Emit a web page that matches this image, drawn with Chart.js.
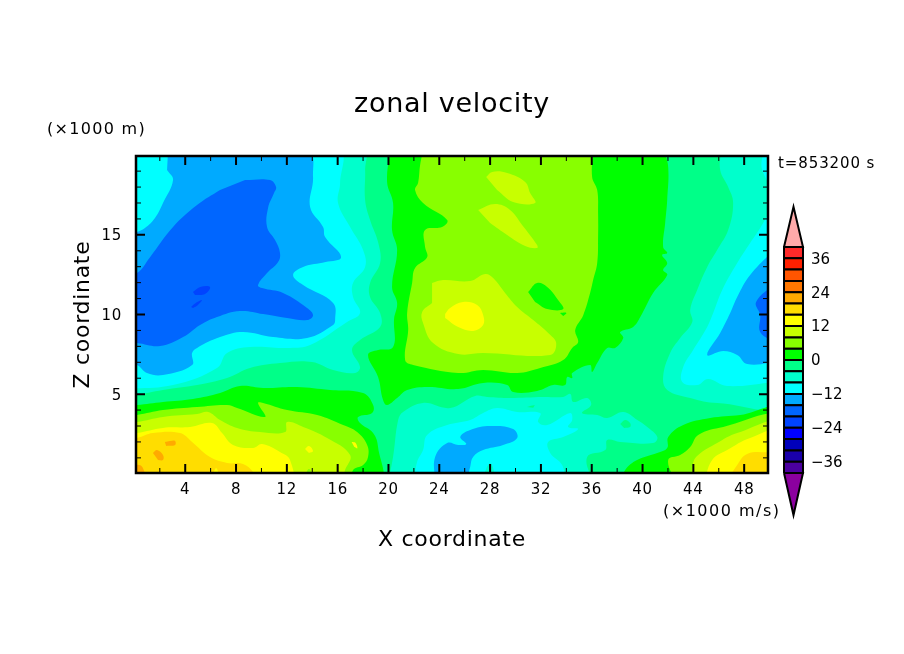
<!DOCTYPE html>
<html>
<head>
<meta charset="utf-8">
<script src="https://cdn.jsdelivr.net/npm/chart.js@4"></script>
<style>
    html, body { margin: 0; padding: 0; background: #fff; }
    #wrap { position: relative; width: 904px; height: 654px; overflow: hidden; }
    #mainChart { position: absolute; left: 0; top: 0; }
    #barChart { position: absolute; left: 770px; top: 200px; }
</style>
</head>
<body>
<div id="wrap">
    <canvas id="mainChart" width="904" height="654"></canvas>
    <canvas id="barChart" width="134" height="330"></canvas>
</div>
<script>
// colour bands, lower bound of each band in m/s
const levels = [-40, -36, -32, -28, -24, -20, -16, -12, -8, -4, 0, 4, 8, 12, 16, 20, 24, 28, 32, 36];
const bandColors = ['#4b009f', '#1a00aa', '#0000bb', '#0000ff', '#0044ff', '#0066ff', '#00aaff', '#00ffff', '#00ffcc', '#00ff88',
    '#00ff00', '#88ff00', '#c8ff00', '#ffff00', '#ffdd00', '#ffaa00', '#ff7700', '#ff5500', '#ff2000', '#ff2a2a'];
const colorbarLabels = [-36, -24, -12, 0, 12, 24, 36];
const overTip = 54.2;
const underTip = -54.9;

const xTicks = [4, 8, 12, 16, 20, 24, 28, 32, 36, 40, 44, 48];
const xMinor = [2, 6, 10, 14, 18, 22, 26, 30, 34, 38, 42, 46];
const zTicks = [5, 10, 15];
const zMinor = [1, 2, 3, 4, 6, 7, 8, 9, 11, 12, 13, 14, 16, 17, 18, 19];

// contour outlines as [x km, z km], painted in order further down
const wholeDomain = [[-1, -1], [51, -1], [51, 21], [-1, 21]];

const leftMinus8 = [[-1, 20.3], [18.0, 20.3], [18.16, 19.07], [18.16, 17.19], [18.55, 15.93], [19.2, 14.49], [19.34, 13.23], [18.55, 11.98], [18.55, 11.1], [19.34, 10.09], [19.34, 9.22], [17.76, 8.4], [17.13, 7.77], [17.76, 6.7], [17.37, 6.33], [15.64, 6.52], [13.98, 7.02], [11.46, 6.95], [9.1, 6.64], [7.29, 6.01], [4.93, 5.57], [2.25, 5.26], [-1, 4.76]];
const leftMinus12 = [[-1, 20.3], [16.03, 20.3], [16.19, 18.25], [16.03, 17.0], [16.98, 15.49], [18.0, 14.05], [18.16, 12.98], [17.21, 11.98], [17.21, 11.1], [17.76, 10.09], [16.74, 9.53], [13.83, 8.08], [12.25, 7.9], [9.1, 7.96], [7.29, 7.58], [6.5, 6.64], [3.04, 5.57], [-1, 5.32]];
const leftMinus16 = [[2.65, 20.3], [13.59, 20.3], [14.06, 18.64], [13.83, 16.75], [14.85, 15.49], [15.01, 14.86], [16.27, 13.6], [15.05, 13.29], [13.28, 12.98], [12.49, 12.48], [13.28, 11.85], [15.64, 10.72], [15.8, 9.65], [15.64, 9.34], [13.59, 8.52], [10.91, 8.58], [8.55, 8.9], [6.74, 8.58], [4.93, 7.9], [4.54, 7.58], [4.54, 6.83], [2.25, 6.2], [0.99, 6.33], [0.2, 6.83], [-1, 7.02], [-1, 14.49], [0.83, 15.43], [1.62, 16.06], [2.25, 17.0], [3.04, 18.44], [2.57, 19.07]];
const leftMinus20 = [[8.71, 18.44], [10.68, 18.44], [11.15, 18.0], [10.99, 17.63], [10.52, 16.69], [10.44, 15.49], [11.07, 14.67], [11.46, 13.86], [11.31, 13.29], [10.44, 12.6], [9.73, 11.85], [10.05, 11.66], [11.7, 11.35], [13.59, 10.41], [14.06, 9.96], [13.59, 9.65], [12.02, 9.78], [10.13, 10.03], [8.31, 10.22], [6.5, 9.84], [5.17, 9.34], [3.83, 8.58], [2.02, 8.02], [0.2, 8.21], [-1, 8.27], [-1, 12.41], [0.2, 12.6], [1.23, 13.6], [3.04, 15.49], [4.93, 16.87], [6.74, 17.81]];
const leftMinus24a = [[4.61, 11.41], [5.17, 11.73], [5.95, 11.73], [5.56, 11.29], [4.77, 11.22]];
const leftMinus24b = [[4.46, 10.47], [4.93, 10.78], [5.32, 10.91], [5.0, 10.6], [4.61, 10.41]];

const rightMinus8 = [[46.19, 20.3], [46.11, 19.07], [46.74, 18.0], [47.13, 17.0], [46.74, 15.3], [45.87, 14.05], [45.09, 12.98], [44.3, 11.54], [43.75, 10.29], [43.91, 9.53], [42.96, 8.52], [42.17, 7.58], [41.62, 6.08], [41.94, 5.26], [43.75, 4.76], [45.87, 4.45], [51, 4.64], [51, 20.3]];
const rightMinus12Top = [[49.5, 20.3], [49.42, 19.07], [50.5, 17.81], [50.5, 20.3]];
const rightMinus12 = [[50.5, 17.19], [49.26, 15.43], [48.47, 14.49], [47.45, 13.23], [46.27, 11.54], [45.56, 10.09], [45.09, 9.22], [43.98, 7.77], [43.2, 6.7], [43.12, 5.77], [44.3, 5.57], [45.17, 5.95], [46.66, 5.51], [50.5, 5.77]];
const rightMinus16 = [[50.5, 14.17], [48.47, 12.48], [47.45, 11.1], [46.9, 10.09], [46.11, 8.84], [45.09, 7.46], [46.35, 7.71], [47.45, 7.46], [48.24, 6.89], [50.5, 7.02]];
const rightMinus20 = [[50.5, 11.98], [48.94, 10.78], [49.26, 9.96], [49.26, 8.9], [50.5, 8.21]];

const lowMinus8 = [[19.97, -0.5], [20.36, 1.05], [20.76, 3.38], [21.15, 3.88], [22.72, 4.45], [24.85, 4.13], [26.82, 4.88], [27.76, 4.82], [29.57, 4.76], [32.17, 4.82], [33.75, 4.82], [34.31, 5.01], [34.54, 4.51], [35.64, 4.76], [35.95, 4.32], [35.24, 3.82], [36.43, 3.69], [37.22, 3.5], [38.48, 3.88], [39.59, 3.38], [40.37, 2.94], [41.16, 2.31], [40.83, 1.93], [38.24, 2.0], [37.22, 2.12], [37.06, 1.49], [35.64, 1.05], [36.03, -0.5]];
const lowHole = [[38.24, 3.13], [38.63, 3.38], [39.02, 3.19], [39.02, 2.94], [38.55, 2.88]];
const lowSliver = [[30.9, 4.2], [31.5, 4.3], [31.4, 4.15]];
const lowMinus12 = [[22.02, -0.5], [22.25, 0.74], [22.72, 1.49], [23.04, 2.44], [24.62, 3.06], [26.43, 3.38], [27.45, 3.82], [28.55, 4.13], [30.13, 3.88], [31.94, 3.82], [31.78, 3.25], [32.49, 3.06], [34.31, 3.82], [34.46, 3.38], [34.14, 2.94], [34.93, 2.81], [33.75, 2.31], [32.57, 2.0], [32.73, 1.31], [33.67, 0.55], [33.9, -0.5]];
const lowMinus16 = [[23.67, -0.5], [23.67, 1.05], [24.62, 1.93], [25.49, 1.81], [26.12, 1.87], [25.65, 2.31], [26.43, 2.75], [28.0, 3.0], [29.81, 2.81], [30.13, 2.25], [29.02, 1.81], [27.45, 1.49], [26.66, 1.05], [26.43, 0.43], [26.12, -0.5]];
const lowBump = [[27.3, -0.5], [28.0, 0.65], [28.55, -0.5]];

const midZero = [[20.13, 20.3], [19.89, 18.32], [20.36, 17.0], [20.28, 15.3], [20.68, 14.05], [20.28, 11.73], [20.68, 10.72], [20.44, 9.72], [20.36, 7.96], [19.18, 7.77], [18.39, 7.46], [19.18, 6.08], [19.57, 4.64], [19.89, 4.32], [20.68, 4.76], [21.47, 5.26], [23.04, 5.45], [25.49, 5.32], [27.45, 5.7], [29.34, 5.57], [29.81, 5.13], [31.7, 5.2], [32.96, 5.57], [33.9, 5.57], [34.07, 6.08], [34.46, 6.01], [34.46, 6.33], [35.87, 6.83], [36.03, 6.39], [36.43, 6.95], [37.22, 7.9], [37.84, 7.9], [38.48, 8.52], [38.24, 8.9], [39.26, 9.22], [39.82, 9.84], [40.83, 11.35], [41.94, 12.48], [41.62, 12.79], [41.94, 13.23], [41.54, 13.74], [41.94, 13.86], [41.62, 14.24], [41.78, 15.74], [41.94, 17.19], [42.02, 19.25], [41.7, 20.3]];
const midFour = [[22.72, 20.3], [22.49, 19.38], [22.33, 18.25], [22.09, 17.81], [22.72, 17.0], [24.62, 15.93], [24.22, 15.49], [22.88, 15.3], [22.88, 14.24], [23.04, 13.6], [22.09, 12.92], [21.86, 11.98], [21.47, 10.09], [21.55, 9.03], [21.31, 7.14], [21.94, 6.83], [25.49, 6.33], [27.45, 6.52], [30.13, 6.33], [31.94, 6.64], [33.75, 7.14], [34.46, 7.9], [34.93, 8.27], [34.7, 9.03], [35.33, 9.96], [35.87, 11.35], [36.11, 12.16], [36.43, 13.23], [36.5, 14.86], [36.5, 16.37], [36.43, 17.81], [36.03, 18.63], [36.11, 20.3]];
const midIsland = [[30.99, 11.41], [31.7, 11.98], [32.49, 11.73], [33.35, 10.91], [33.75, 10.34], [32.49, 10.34], [31.54, 10.78]];
const midDot = [[33.5, 10.1], [34.0, 10.1], [33.75, 9.9]];
const upperEight = [[27.69, 18.63], [28.16, 18.95], [29.34, 18.88], [30.76, 18.32], [31.15, 17.63], [31.54, 17.0], [29.81, 17.06], [28.55, 17.81]];
const lowerEight = [[27.06, 16.56], [28.39, 16.93], [29.57, 16.56], [30.52, 15.62], [31.7, 14.36], [31.7, 14.17], [30.76, 14.3], [29.34, 14.99], [28.0, 15.74]];
const midEight = [[23.43, 11.98], [24.3, 12.16], [26.43, 12.1], [27.61, 12.54], [28.24, 12.29], [29.18, 11.35], [30.13, 10.47], [31.39, 9.65], [32.57, 8.84], [33.2, 8.21], [32.73, 7.46], [27.45, 7.58], [25.49, 7.52], [23.51, 8.21], [22.72, 9.47], [22.65, 10.16], [23.43, 10.72]];
const midTwelve = [[24.46, 10.03], [24.85, 10.41], [25.87, 10.79], [26.98, 10.6], [27.45, 9.97], [27.45, 9.34], [26.66, 8.97], [25.49, 9.21], [24.46, 9.78]];

const leftZero = [[-1, 4.26], [0.2, 4.32], [2.25, 4.51], [4.61, 4.7], [6.74, 5.07], [8.31, 5.51], [10.13, 5.39], [12.8, 5.45], [15.4, 5.26], [18.0, 5.07], [18.79, 4.32], [18.71, 3.82], [17.61, 3.57], [17.76, 3.19], [18.79, 2.56], [19.18, 1.68], [19.18, -0.5], [-1, -0.5]];
const leftFour = [[-1, 3.63], [0.2, 3.69], [2.25, 4.0], [4.93, 4.19], [7.29, 4.32], [8.08, 4.13], [10.28, 3.57], [9.73, 4.45], [10.13, 4.45], [12.02, 4.0], [14.38, 3.69], [16.43, 3.06], [17.53, 2.62], [18.32, 1.81], [18.39, 1.05], [18.0, 0.55], [17.21, 0.24], [16.98, -0.5], [-1, -0.5]];
const leftEight = [[-1, 3.19], [0.2, 3.25], [2.25, 3.57], [4.93, 3.75], [5.8, 3.88], [6.74, 3.38], [8.08, 2.88], [9.89, 2.62], [11.86, 2.62], [12.02, 3.25], [13.28, 2.94], [15.17, 2.25], [16.98, 1.18], [16.58, 0.24], [16.19, -0.5], [-1, -0.5]];
const leftBump = [[13.28, -0.5], [13.74, 0.3], [14.2, -0.5]];
const leftTwelve = [[-1, 2.5], [0.2, 2.56], [2.25, 2.88], [4.38, 2.94], [6.11, 3.19], [6.9, 2.56], [7.76, 1.81], [9.34, 1.62], [10.05, 1.87], [11.46, 1.37], [12.25, 0.87], [12.25, -0.5], [-1, -0.5]];
const leftTwelveDotA = [[13.43, 1.56], [13.74, 1.75], [14.06, 1.43], [13.74, 1.3]];
const leftTwelveDotB = [[17.1, 2.0], [17.4, 1.95], [17.55, 1.6], [17.3, 1.7]];
const leftSixteen = [[-1, 2.12], [0.2, 2.25], [1.46, 2.56], [3.59, 2.56], [4.54, 2.0], [5.95, 1.05], [7.29, 0.68], [8.55, 0.62], [9.34, 0.11], [9.5, -0.5], [-1, -0.5]];
const leftTwelveDotC = [[6.11, -0.3], [6.43, 0.36], [6.74, -0.3]];
const leftTwentyA = [[2.4, 2.0], [2.8, 2.06], [3.2, 2.06], [3.2, 1.81], [2.5, 1.75]];
const leftTwentyB = [[1.46, 1.31], [1.78, 1.49], [2.25, 1.18], [2.25, 0.87], [1.86, 0.87]];
const leftTwentyC = [[-1, 0.6], [0.4, 0.55], [0.7, 0.3], [0.9, -0.5], [-1, -0.5]];

const rightZero = [[38.39, -0.5], [38.63, 0.24], [39.57, 0.87], [41.15, 1.31], [41.94, 1.62], [42.02, 2.31], [43.2, 3.06], [45.32, 3.5], [47.69, 3.69], [51, 4.07], [51, -0.5]];
const rightFour = [[42.57, -0.5], [42.02, 0.87], [42.96, 1.18], [43.75, 1.68], [44.38, 2.44], [46.35, 2.94], [51, 3.57], [51, -0.5]];
const rightEight = [[43.91, -0.5], [43.98, 0.68], [44.38, 1.18], [45.87, 1.93], [47.45, 2.56], [51, 3.19], [51, -0.5]];
const rightTwelve = [[44.85, -0.5], [45.48, 0.87], [46.66, 1.49], [48.47, 2.25], [51, 2.69], [51, -0.5]];
const rightSixteen = [[46.58, -0.5], [47.45, 0.55], [48.08, 1.18], [49.02, 1.37], [51, 1.05], [51, -0.5]];
const rightTwenty = [[49.26, -0.5], [51, 0.68], [51, -0.5]];

// outline, lower bound of its band
const regions = [
    [wholeDomain, -4],
    [leftMinus8, -8], [leftMinus12, -12], [leftMinus16, -16], [leftMinus20, -20], [leftMinus24a, -24], [leftMinus24b, -24],
    [rightMinus8, -8], [rightMinus12Top, -12], [rightMinus12, -12], [rightMinus16, -16], [rightMinus20, -20],
    [lowMinus8, -8], [lowHole, -4], [lowSliver, -4], [lowMinus12, -12], [lowMinus16, -16], [lowBump, -8],
    [midZero, 0], [midFour, 4], [midIsland, 0], [midDot, 0], [upperEight, 8], [lowerEight, 8], [midEight, 8], [midTwelve, 12],
    [leftZero, 0], [leftFour, 4], [leftEight, 8], [leftBump, 4], [leftTwelve, 12], [leftTwelveDotA, 12], [leftTwelveDotB, 12],
    [leftSixteen, 16], [leftTwelveDotC, 12], [leftTwentyA, 20], [leftTwentyB, 20], [leftTwentyC, 20],
    [rightZero, 0], [rightFour, 4], [rightEight, 8], [rightTwelve, 12], [rightSixteen, 16], [rightTwenty, 20]
];

const FONT = '"DejaVu Sans", sans-serif';

function bandColor(lo) {
    return bandColors[levels.indexOf(lo)];
}

function toPoints(list) {
    return list.map(p => ({ x: p[0], y: p[1] }));
}

// chart.js draws the first dataset on top, so higher order goes underneath
const contourSets = regions.map((r, i) => ({
    data: toPoints(r[0]),
    showLine: true,
    fill: 'shape',
    backgroundColor: bandColor(r[1]),
    borderColor: 'rgba(0,0,0,0)',
    borderWidth: 0,
    pointRadius: 0,
    tension: 0.4,
    order: regions.length - i
}));

const frameAndText = {
    id: 'frameAndText',
    beforeDraw(chart) {
        chart.ctx.letterSpacing = '0.7px';
    },
    afterDraw(chart) {
        const { ctx, chartArea: a, scales: { x, y } } = chart;
        ctx.save();
        ctx.strokeStyle = '#000';
        ctx.lineWidth = 2;
        ctx.beginPath();
        const tick = (x1, y1, x2, y2) => { ctx.moveTo(x1, y1); ctx.lineTo(x2, y2); };
        xTicks.forEach(v => {
            const p = x.getPixelForValue(v);
            tick(p, a.bottom, p, a.bottom - 9);
            tick(p, a.top, p, a.top + 9);
        });
        zTicks.forEach(v => {
            const p = y.getPixelForValue(v);
            tick(a.left, p, a.left + 9, p);
            tick(a.right, p, a.right - 9, p);
        });
        ctx.stroke();
        ctx.lineWidth = 1;
        ctx.beginPath();
        xMinor.forEach(v => {
            const p = x.getPixelForValue(v);
            tick(p, a.bottom, p, a.bottom - 5);
            tick(p, a.top, p, a.top + 5);
        });
        zMinor.forEach(v => {
            const p = y.getPixelForValue(v);
            tick(a.left, p, a.left + 5, p);
            tick(a.right, p, a.right - 5, p);
        });
        ctx.stroke();
        ctx.lineWidth = 2.5;
        ctx.strokeRect(a.left, a.top, a.right - a.left, a.bottom - a.top);

        ctx.fillStyle = '#000';
        ctx.textBaseline = 'middle';
        ctx.textAlign = 'left';
        ctx.font = '15px ' + FONT;
        ctx.letterSpacing = '0.9px';
        ctx.fillText('t=853200 s', 778, 164.5);
        ctx.font = '16px ' + FONT;
        ctx.letterSpacing = '1.3px';
        ctx.fillText('(\u00d71000 m)', 47, 130);
        ctx.letterSpacing = '1.5px';
        ctx.fillText('(\u00d71000 m/s)', 663, 512);
        ctx.restore();
    }
};

new Chart(document.getElementById('mainChart'), {
    type: 'scatter',
    data: { datasets: contourSets },
    plugins: [frameAndText],
    options: {
        responsive: false,
        animation: false,
        plugins: {
            legend: { display: false },
            tooltip: { enabled: false },
            title: {
                display: true,
                text: 'zonal velocity',
                color: '#000',
                font: { family: FONT, size: 27, weight: 'normal', lineHeight: 1.2 },
                padding: { top: 88.8, bottom: 34.8 }
            }
        },
        scales: {
            x: {
                type: 'linear',
                min: 0.125,
                max: 49.875,
                grid: { display: false, drawTicks: false },
                border: { display: false },
                afterBuildTicks: s => { s.ticks = xTicks.map(v => ({ value: v })); },
                afterFit: s => { s.height = 181; },
                ticks: { color: '#000', padding: 8, maxRotation: 0, autoSkip: false, font: { family: FONT, size: 15 } },
                title: { display: true, text: 'X coordinate', color: '#000', padding: { top: 0, bottom: 101 }, font: { family: FONT, size: 22, lineHeight: 1.2 } }
            },
            y: {
                type: 'linear',
                min: 0.05,
                max: 19.95,
                grid: { display: false, drawTicks: false },
                border: { display: false },
                afterBuildTicks: s => { s.ticks = zTicks.map(v => ({ value: v })); },
                afterFit: s => { s.width = 136; },
                ticks: { color: '#000', padding: 14, labelOffset: 1.5, autoSkip: false, font: { family: FONT, size: 15 } },
                title: { display: true, text: 'Z coordinate', color: '#000', padding: { top: 70, bottom: 0 }, font: { family: FONT, size: 22, lineHeight: 1.2 } }
            },
            // empty right axis keeps the plot and the title centred on the page
            yRight: {
                type: 'linear',
                position: 'right',
                min: 0,
                max: 1,
                grid: { display: false, drawTicks: false },
                border: { display: false },
                ticks: { display: false },
                afterFit: s => { s.width = 136; }
            }
        }
    }
});

// colour bar: one closed box per band and a triangle at each end
const barSets = levels.map(lo => ({
    data: toPoints([[-1, lo], [1, lo], [1, lo + 4], [-1, lo + 4], [-1, lo]]),
    backgroundColor: bandColor(lo)
}));
barSets.push({ data: toPoints([[-1, 40], [0, overTip], [1, 40], [-1, 40]]), backgroundColor: '#ffaaaa' });
barSets.push({ data: toPoints([[-1, -40], [0, underTip], [1, -40], [-1, -40]]), backgroundColor: '#8b009f' });
barSets.forEach(d => {
    d.showLine = true;
    d.fill = 'shape';
    d.borderColor = '#000';
    d.borderWidth = 2;
    d.pointRadius = 0;
    d.tension = 0;
    d.clip = false;
});

new Chart(document.getElementById('barChart'), {
    type: 'scatter',
    data: { datasets: barSets },
    options: {
        responsive: false,
        animation: false,
        layout: { padding: { left: 14, right: 0, top: 5, bottom: 10 } },
        plugins: { legend: { display: false }, tooltip: { enabled: false } },
        scales: {
            x: { type: 'linear', min: -1, max: 1, display: false },
            y: {
                type: 'linear',
                position: 'right',
                min: -56.64,
                max: 54.87,
                grid: { display: false, drawTicks: false },
                border: { display: false },
                afterBuildTicks: s => { s.ticks = colorbarLabels.map(v => ({ value: v })); },
                afterFit: s => { s.width = 101; s.paddingTop = 0; s.paddingBottom = 0; },
                ticks: {
                    color: '#000',
                    padding: 8,
                    labelOffset: 1.5,
                    autoSkip: false,
                    font: { family: FONT, size: 15 },
                    callback: v => (v < 0 ? '\u2212' + (-v) : '' + v)
                }
            }
        }
    }
});
</script>
</body>
</html>
